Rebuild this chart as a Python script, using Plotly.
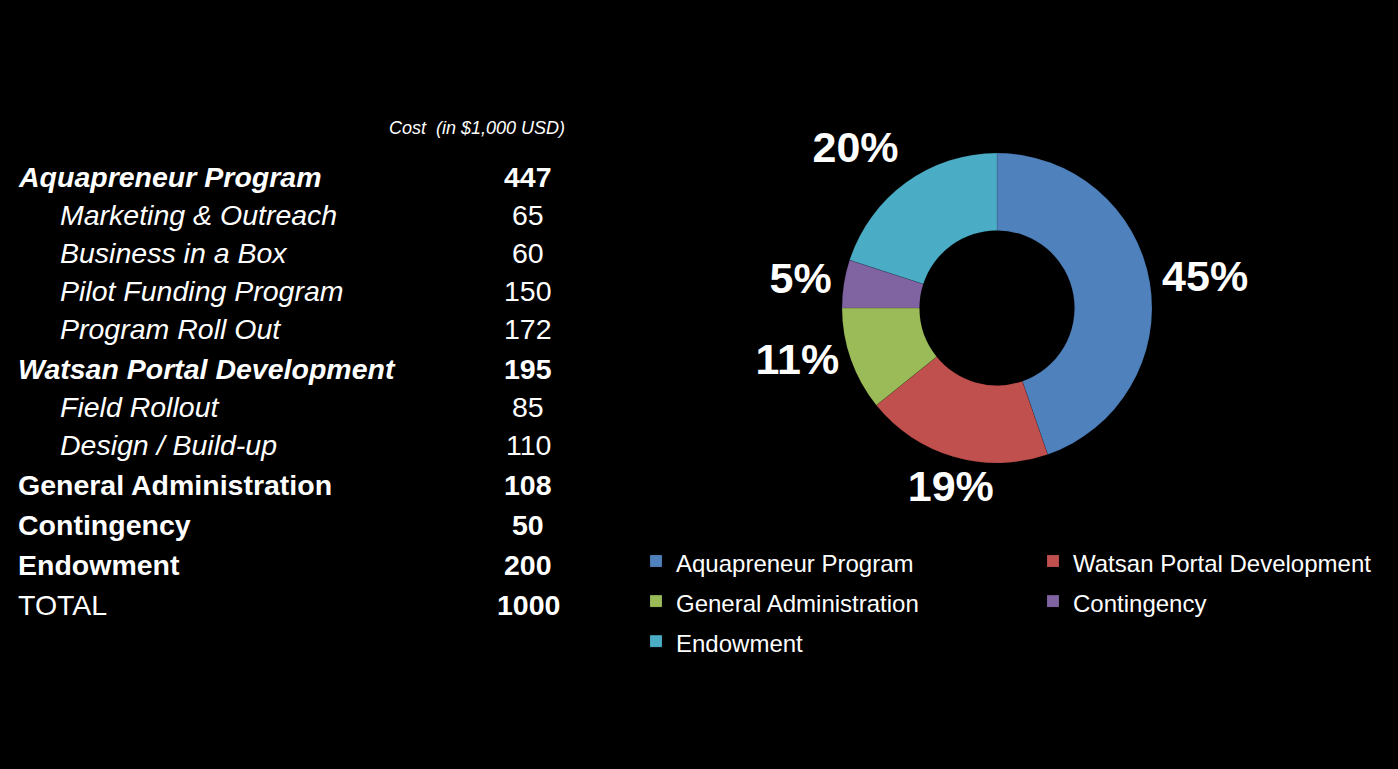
import plotly.graph_objects as go

# ---- data ----
categories = ["Aquapreneur Program", "Watsan Portal Development", "General Administration",
              "Contingency", "Endowment"]
values = [447, 195, 108, 50, 200]
pct_labels = ["45%", "19%", "11%", "5%", "20%"]
colors = ["#4F81BD", "#C0504D", "#9BBB59", "#8064A2", "#4BACC6"]

table_names = ["Aquapreneur Program", "Marketing & Outreach", "Business in a Box",
               "Pilot Funding Program", "Program Roll Out", "Watsan Portal Development",
               "Field Rollout", "Design / Build-up", "General Administration",
               "Contingency", "Endowment", "TOTAL"]
table_values = ["447", "65", "60", "150", "172", "195", "85", "110", "108", "50", "200", "1000"]
# row kind: group (bold italic), sub (italic), main (bold), total
table_kinds = ["group", "sub", "sub", "sub", "sub", "group", "sub", "sub",
               "main", "main", "main", "total"]
header_text = "Cost  (in $1,000 USD)"

# ---- layout helpers ----
W, H = 1398, 769
ML = 400
PW = W - ML
FONT = "Arial, Liberation Sans, sans-serif"
TS = 28.5

CX, CY, R = 997, 308, 155      # donut centre / outer radius (px)
POLAR_MAX = 1.5                # polar radial range used for the outside labels


def px_x(px):
    return (px - ML) / PW


def px_y(py):
    return 1 - py / H


pie_domain = dict(x=[px_x(CX - R), px_x(CX + R)], y=[px_y(CY + R), px_y(CY - R)])
RP = R * POLAR_MAX
polar_domain = dict(x=[px_x(CX - RP), px_x(CX + RP)], y=[px_y(CY + RP), px_y(CY - RP)])

fig = go.Figure()

fig.add_trace(go.Pie(
    labels=[f'<span style="font-size:24px">{c}</span>' for c in categories],
    values=values,
    textinfo="none",
    marker=dict(colors=colors, line=dict(color="rgba(0,0,0,0.25)", width=0.5)),
    hole=0.5,
    sort=False,
    direction="clockwise",
    rotation=0,
    domain=pie_domain,
    hoverinfo="skip",
))

# percentage labels placed outside the ring at each slice's mid-angle
total = sum(values)
mid_angles = []
acc = 0
for v in values:
    mid_angles.append((acc + v / 2) / total * 360)
    acc += v
sector_pos = ["top center", "top right", "middle right", "bottom right",
              "bottom center", "bottom left", "middle left", "top left"]
label_pos = [sector_pos[int(round(a / 45)) % 8] for a in mid_angles]

fig.add_trace(go.Scatterpolar(
    r=[1.08] * len(values),
    theta=mid_angles,
    mode="text",
    text=pct_labels,
    textposition=label_pos,
    textfont=dict(family=FONT, size=43, color="white", weight="bold"),
    cliponaxis=False,
    showlegend=False,
    hoverinfo="skip",
))

annotations = []
annotations.append(dict(
    x=px_x(567), y=px_y(128), xref="paper", yref="paper", xanchor="right", yanchor="middle",
    text=header_text, showarrow=False,
    font=dict(family=FONT, size=18, color="white", style="italic"),
))

y = 177
for i, (name, val, kind) in enumerate(zip(table_names, table_values, table_kinds)):
    if i > 0:
        y += 38 if kind == "sub" else 40
    if kind == "group":
        nfont = dict(family=FONT, size=TS, color="white", weight="bold", style="italic")
        vfont = dict(family=FONT, size=TS, color="white", weight="bold")
        x0 = 18
    elif kind == "sub":
        nfont = dict(family=FONT, size=TS, color="white", style="italic")
        vfont = dict(family=FONT, size=TS, color="white")
        x0 = 60
    elif kind == "main":
        nfont = dict(family=FONT, size=TS, color="white", weight="bold")
        vfont = dict(family=FONT, size=TS, color="white", weight="bold")
        x0 = 18
    else:
        nfont = dict(family=FONT, size=TS, color="white")
        vfont = dict(family=FONT, size=TS, color="white", weight="bold")
        x0 = 18
    annotations.append(dict(
        x=px_x(x0), y=px_y(y), xref="paper", yref="paper", xanchor="left", yanchor="middle",
        text=name, showarrow=False, font=nfont, xshift=-2,
    ))
    annotations.append(dict(
        x=px_x(528), y=px_y(y), xref="paper", yref="paper", xanchor="center", yanchor="middle",
        text=val, showarrow=False, font=vfont,
    ))

fig.update_layout(
    width=W, height=H,
    margin=dict(l=ML, r=0, t=0, b=0, autoexpand=False),
    paper_bgcolor="black",
    plot_bgcolor="black",
    showlegend=True,
    polar=dict(
        domain=polar_domain,
        bgcolor="rgba(0,0,0,0)",
        radialaxis=dict(visible=False, range=[0, POLAR_MAX], showgrid=False),
        angularaxis=dict(visible=False, rotation=90, direction="clockwise", showgrid=False),
    ),
    legend=dict(
        orientation="h",
        x=px_x(636), xanchor="left",
        y=px_y(536), yanchor="top",
        entrywidth=352,
        font=dict(family=FONT, size=28.5, color="white"),
        bgcolor="rgba(0,0,0,0)",
        traceorder="normal",
    ),
    annotations=annotations,
)

fig.write_html("out.html")
